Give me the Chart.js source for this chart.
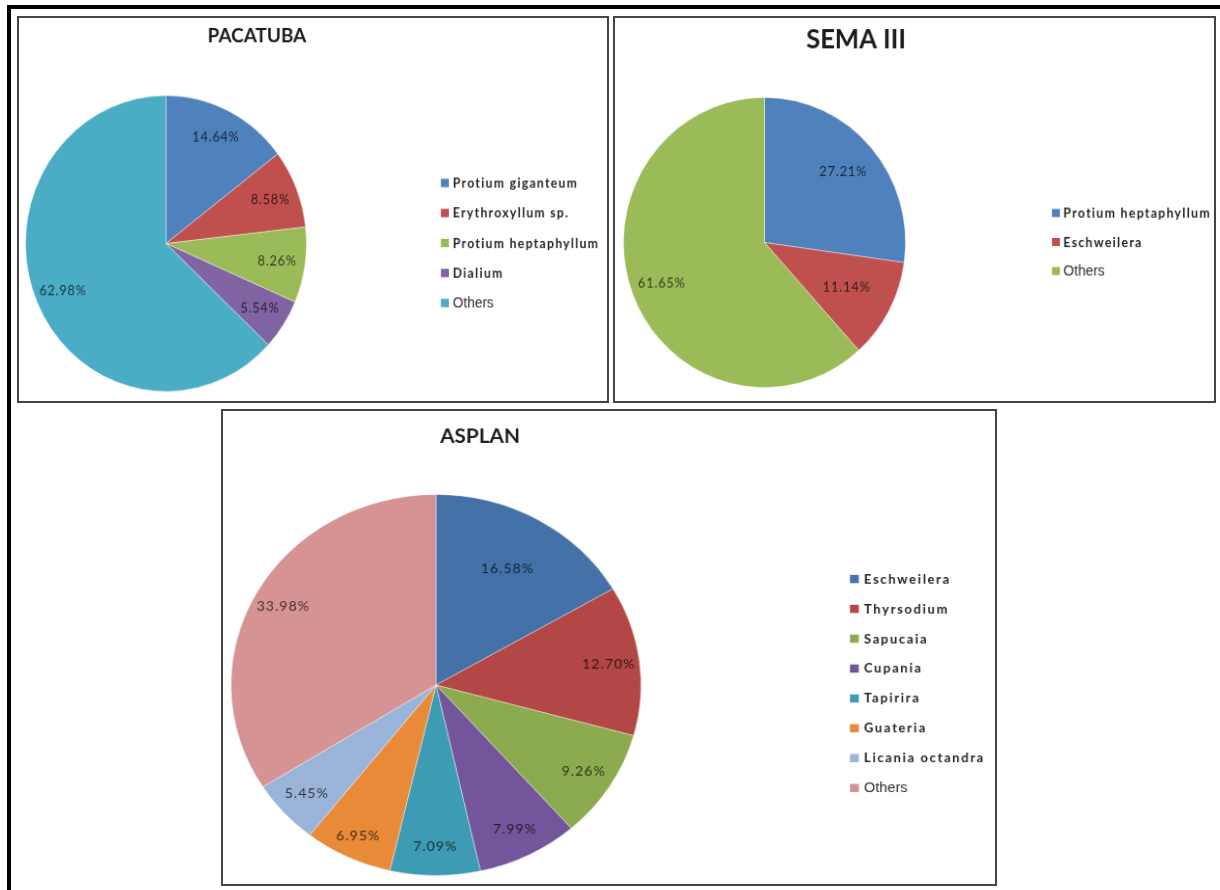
<!DOCTYPE html>
<html>
<head>
<meta charset="utf-8">
<title>Species share by site</title>
<script src="https://cdn.jsdelivr.net/npm/chart.js@4.4.1/dist/chart.umd.min.js"></script>
<style>
    html, body { margin: 0; padding: 0; background: #fff; }
    body { width: 1220px; height: 890px; position: relative; overflow: hidden; font-family: Lato, sans-serif; }
    .frame {
        position: absolute; left: 7px; top: 5px; width: 1300px; height: 1000px;
        border-left: 4px solid #000; border-top: 4px solid #000;
    }
    .panel { position: absolute; box-sizing: border-box; border: 2px solid #444; background: #fff; }
    .panel canvas { position: absolute; left: 0; top: 0; }
</style>
</head>
<body>
<div class="frame"></div>
<div class="panel" style="left:17px;top:16px;width:592px;height:387px">
    <canvas id="pacatuba-chart" width="620" height="383"></canvas>
</div>
<div class="panel" style="left:613px;top:16px;width:603px;height:387px">
    <canvas id="sema-chart" width="620" height="383"></canvas>
</div>
<div class="panel" style="left:221px;top:409px;width:776px;height:477px">
    <canvas id="asplan-chart" width="772" height="473"></canvas>
</div>

<script>
// Percent of individuals per species, one list per site
const pacatubaLabels = ['Protium giganteum', 'Erythroxyllum sp.', 'Protium heptaphyllum', 'Dialium', 'Others'];
const pacatubaValues = [14.64, 8.58, 8.26, 5.54, 62.98];
const pacatubaColors = ['#4f81bd', '#c0504d', '#9bbb59', '#8064a2', '#4bacc6'];

const semaLabels = ['Protium heptaphyllum', 'Eschweilera', 'Others'];
const semaValues = [27.21, 11.14, 61.65];
const semaColors = ['#4f81bd', '#c0504d', '#9bbb59'];

const asplanLabels = ['Eschweilera', 'Thyrsodium', 'Sapucaia', 'Cupania', 'Tapirira', 'Guateria', 'Licania octandra', 'Others'];
const asplanValues = [16.58, 12.70, 9.26, 7.99, 7.09, 6.95, 5.45, 33.98];
const asplanColors = ['#4472a8', '#b34745', '#8cab4e', '#73559b', '#3d9bb3', '#e98a39', '#99b3d9', '#d59493'];

// Pie box and title at fixed spots inside each panel
const placeParts = {
    id: 'placeParts',
    afterLayout(chart, args, opts) {
        const { cx, cy, r } = opts;
        Object.assign(chart.chartArea, {
            left: cx - r, right: cx + r, top: cy - r, bottom: cy + r,
            width: 2 * r, height: 2 * r
        });

        const title = chart.titleBlock;
        const th = title.height;
        Object.assign(title, {
            left: opts.titleX - 150, right: opts.titleX + 150, width: 300,
            top: opts.titleY - th / 2, bottom: opts.titleY + th / 2
        });
    }
};

// Percentage text inside each slice
const sliceLabels = {
    id: 'sliceLabels',
    afterDatasetsDraw(chart, args, opts) {
        const { ctx } = chart;
        const values = chart.data.datasets[0].data;
        ctx.save();
        ctx.font = `${opts.size}px Lato`;
        ctx.letterSpacing = opts.spacing;
        ctx.fillStyle = 'rgba(0, 0, 0, 0.7)';
        ctx.textAlign = 'center';
        ctx.textBaseline = 'middle';
        chart.getDatasetMeta(0).data.forEach((arc, i) => {
            const { x, y, startAngle, endAngle, outerRadius } =
                arc.getProps(['x', 'y', 'startAngle', 'endAngle', 'outerRadius'], true);
            const mid = (startAngle + endAngle) / 2;
            const ratio = Array.isArray(opts.ratio) ? opts.ratio[i] : opts.ratio;
            const d = outerRadius * ratio;
            ctx.fillText(values[i].toFixed(2) + '%', x + Math.cos(mid) * d, y + Math.sin(mid) * d);
        });
        ctx.restore();
    }
};

// Column of colour keys to the right of the pie
const sideLegend = {
    id: 'sideLegend',
    afterDraw(chart, args, opts) {
        const { ctx } = chart;
        const labels = chart.data.labels;
        const colors = chart.data.datasets[0].backgroundColor;
        const n = labels.length;
        ctx.save();
        ctx.textAlign = 'left';
        ctx.textBaseline = 'middle';
        labels.forEach((text, i) => {
            const y = opts.y + (i - (n - 1) / 2) * opts.step;
            ctx.fillStyle = colors[i];
            ctx.fillRect(opts.x, y - opts.box / 2, opts.box, opts.box);
            // the catch-all slice is set in a plain face
            const last = i === n - 1;
            ctx.font = last ? '14px "Liberation Sans", Arial, sans-serif' : `bold ${opts.size}px Lato`;
            ctx.letterSpacing = last ? '0px' : opts.spacing;
            ctx.fillStyle = last ? '#2b2b2b' : '#242424';
            ctx.fillText(text, opts.x + opts.box + opts.gap, y + 0.5);
        });
        ctx.restore();
    }
};

function renderPie(canvasId, titleText, labels, values, colors, place) {
    const canvas = document.getElementById(canvasId);
    new Chart(canvas.getContext('2d'), {
        type: 'pie',
        data: {
            labels: labels,
            datasets: [{
                data: values,
                backgroundColor: colors,
                borderColor: 'rgba(255, 255, 255, 0.4)',
                borderWidth: 1
            }]
        },
        options: {
            responsive: false,
            animation: false,
            plugins: {
                title: {
                    display: true,
                    text: titleText,
                    padding: 0,
                    color: '#1b1b1b',
                    font: { family: 'Lato', size: place.titleSize, weight: 'bold' }
                },
                legend: { display: false },
                tooltip: { enabled: false },
                placeParts: place,
                sliceLabels: place.labels,
                sideLegend: place.legend
            }
        },
        plugins: [placeParts, sliceLabels, sideLegend]
    });
    // the source charts were stretched a little differently each
    canvas.style.transformOrigin = `${place.cx}px ${place.cy}px`;
    canvas.style.transform = `scale(${place.sx}, ${place.sy})`;
}

renderPie('pacatuba-chart', 'PACATUBA', pacatubaLabels, pacatubaValues, pacatubaColors, {
    cx: 147, cy: 225.5, r: 145, sx: 0.972, sy: 1.024,
    titleX: 240.6, titleY: 22.9, titleSize: 19.5,
    labels: { size: 13, spacing: '0.8px', ratio: 0.8 },
    legend: { x: 429.8, y: 225, step: 29.3, box: 8.2, gap: 4.1, size: 12.5, spacing: '1.35px' }
});

renderPie('sema-chart', 'SEMA III', semaLabels, semaValues, semaColors, {
    cx: 149.5, cy: 224.5, r: 143.5, sx: 0.986, sy: 1.014,
    titleX: 242.3, titleY: 24.8, titleSize: 26,
    labels: { size: 13, spacing: '0.8px', ratio: [0.74, 0.66, 0.78] },
    legend: { x: 441.1, y: 224, step: 28.6, box: 8, gap: 3.5, size: 12.5, spacing: '1.3px' }
});

renderPie('asplan-chart', 'ASPLAN', asplanLabels, asplanValues, asplanColors, {
    cx: 213, cy: 274, r: 198, sx: 1.038, sy: 0.9646,
    titleX: 255.4, titleY: 16.9, titleSize: 20,
    labels: { size: 13.5, spacing: '1px', ratio: [0.7, 0.85, 0.85, 0.85, 0.85, 0.88, 0.85, 0.85] },
    legend: { x: 611.8, y: 272.4, step: 30.95, box: 8.5, gap: 5, size: 12.5, spacing: '1.6px' }
});
</script>
</body>
</html>
